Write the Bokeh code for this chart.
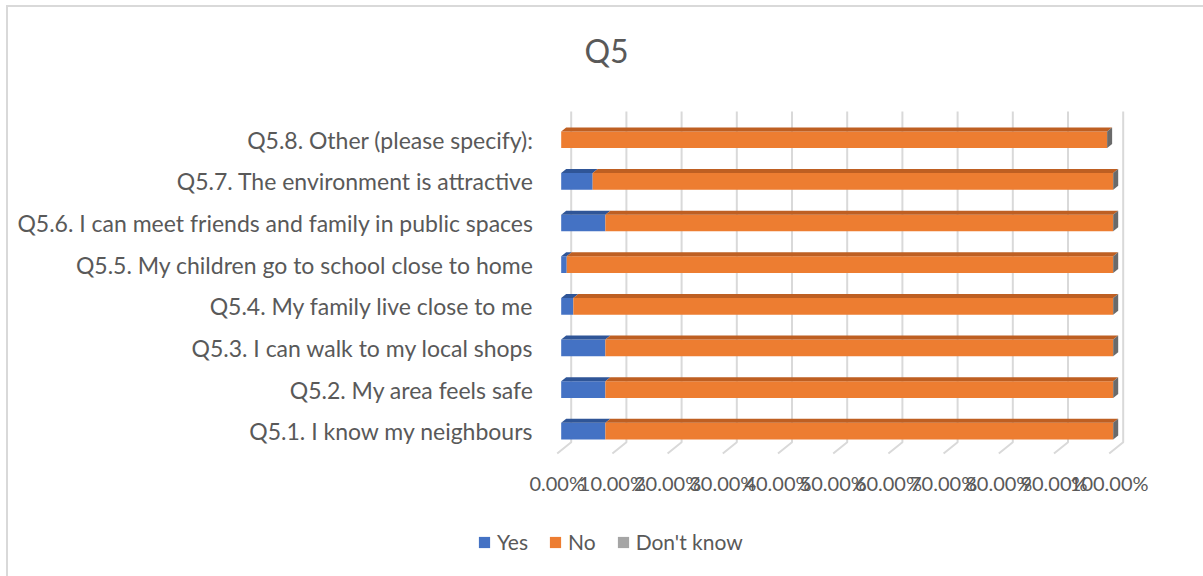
from bokeh.plotting import figure
from bokeh.models import (FixedTicker, Range1d, Legend, LegendItem, Label,
                          ColumnDataSource, LinearAxis)
from bokeh.embed import file_html
from bokeh.resources import INLINE

# ---------------- data ----------------
title_text = "Q5"
categories = [
    "Q5.1. I know my neighbours",
    "Q5.2. My area feels safe",
    "Q5.3. I can walk to my local shops",
    "Q5.4. My family live close to me",
    "Q5.5. My children go to school close to home",
    "Q5.6. I can meet friends and family in public spaces",
    "Q5.7. The environment is attractive",
    "Q5.8. Other (please specify):",
]
yes = [8.0, 8.0, 8.0, 2.2, 1.0, 8.0, 5.7, 0.0]
no = [92.0, 92.0, 92.0, 97.8, 99.0, 92.0, 94.3, 98.9]
dont_know = [0.0, 0.0, 0.0, 0.0, 0.0, 0.0, 0.0, 0.0]
x_ticks = [0, 10, 20, 30, 40, 50, 60, 70, 80, 90, 100]
x_tick_labels = ["0.00%", "10.00%", "20.00%", "30.00%", "40.00%", "50.00%",
                 "60.00%", "70.00%", "80.00%", "90.00%", "100.00%"]
series_names = ["Yes", "No", "Don't know"]

# ---------------- style ----------------
FONT = "Lato"
TXT = "#595959"
C_YES, C_NO, C_DK = "#4472C4", "#ED7D31", "#A5A5A5"
C_YES_TOP, C_NO_TOP, C_CAP = "#2F5597", "#BE5F22", "#6A6A6A"
GRID = "#D9D9D9"
BORDER_LEFT_TOP = ("linear-gradient(#D9D9D9,#D9D9D9) 6px 5px / 2px 100% no-repeat, "
                   "linear-gradient(#D9D9D9,#D9D9D9) 6px 5px / 100% 2px no-repeat, white")
BORDER_LEFT = "linear-gradient(#D9D9D9,#D9D9D9) 6px 0 / 2px 100% no-repeat, white"

PX_X = 5.52      # px per percent
PX_Y = 41.64     # px per category
FACE_H = 16.7 / PX_Y
DX = 5.0 / PX_X
DY = 4.0 / PX_Y
BACK_DX = 10.0 / PX_X
FLOOR_DX = -4.0 / PX_X
BACK_Y = -11.0 / PX_Y
FLOOR_Y = -22.3 / PX_Y
TOP_Y = 7.68
X0, X1 = -2.844, 104.04


def strip(height, bg):
    f = figure(width=1203, height=height, x_range=Range1d(0, 1), y_range=Range1d(0, 1),
               output_backend="svg", toolbar_location=None, title=None,
               x_axis_location=None, y_axis_location=None,
               min_border_left=0, min_border_right=0, min_border_top=0, min_border_bottom=0)
    f.outline_line_color = None
    f.border_fill_color = None
    f.background_fill_color = None
    f.grid.visible = False
    f.styles = {"background": bg}
    return f

# ---------------- title strip ----------------
tp = strip(100, BORDER_LEFT_TOP)
tp.add_layout(Label(x=606, y=50, x_units="screen", y_units="screen", text=title_text,
                    text_align="center", text_baseline="middle",
                    text_font=FONT, text_font_size="32px", text_color=TXT))

# ---------------- main chart ----------------
p = figure(width=1203, height=420, title=None,
           x_range=Range1d(X0, X1), y_range=Range1d(-0.704, 7.702),
           output_backend="svg", toolbar_location=None,
           x_axis_location=None,
           min_border_left=545, min_border_right=68,
           min_border_top=10, min_border_bottom=60)
p.extra_x_ranges = {"lab": Range1d(X0 - FLOOR_DX, X1 - FLOOR_DX)}
p.outline_line_color = None
p.border_fill_color = None
p.grid.visible = False
p.styles = {"background": BORDER_LEFT}

# back-wall and floor gridlines
gx, gy = [], []
for t in x_ticks:
    gx.append([t + BACK_DX, t + BACK_DX, t + FLOOR_DX])
    gy.append([TOP_Y, BACK_Y, FLOOR_Y])
p.multi_line(gx, gy, line_color=GRID, line_width=2)

y = list(range(len(categories)))
left_no = yes
right_no = [a + b for a, b in zip(yes, no)]
right_dk = [a + b for a, b in zip(right_no, dont_know)]

src = ColumnDataSource(dict(y=y, yes=yes, left_no=left_no, right_no=right_no,
                            right_dk=right_dk, zero=[0] * len(y)))

p.hbar(y="y", left="zero", right="yes", height=FACE_H, source=src,
       fill_color=C_YES, line_color=None)
p.hbar(y="y", left="left_no", right="right_no", height=FACE_H, source=src,
       fill_color=C_NO, line_color=None)
p.hbar(y="y", left="right_no", right="right_dk", height=FACE_H, source=src,
       fill_color=C_DK, line_color=None)

# top faces
def top_faces(lefts, rights):
    xs, ys = [], []
    for yi, l, r in zip(y, lefts, rights):
        if r - l <= 0:
            continue
        yt = yi + FACE_H / 2
        xs.append([l, r, r + DX, l + DX])
        ys.append([yt, yt, yt + DY, yt + DY])
    return xs, ys

xs, ys = top_faces([0] * len(y), yes)
p.patches(xs, ys, fill_color=C_YES_TOP, line_color=None)
xs, ys = top_faces(left_no, right_no)
p.patches(xs, ys, fill_color=C_NO_TOP, line_color=None)

# end caps
cx, cy = [], []
for yi, r in zip(y, right_dk):
    yt = yi + FACE_H / 2
    yb = yi - FACE_H / 2
    cx.append([r, r, r + DX, r + DX])
    cy.append([yb, yt, yt + DY, yb + DY])
p.patches(cx, cy, fill_color=C_CAP, line_color=None)

# axes
xa = LinearAxis(x_range_name="lab")
p.add_layout(xa, "below")
xa.ticker = FixedTicker(ticks=x_ticks)
xa.major_label_overrides = {t: l for t, l in zip(x_ticks, x_tick_labels)}
ya = p.yaxis[0]
ya.ticker = FixedTicker(ticks=y)
ya.major_label_overrides = {i: c for i, c in zip(y, categories)}
for ax in (xa, ya):
    ax.axis_line_color = None
    ax.major_tick_line_color = None
    ax.minor_tick_line_color = None
    ax.major_tick_in = 0
    ax.major_tick_out = 0
    ax.major_label_text_font = FONT
    ax.major_label_text_color = TXT
xa.major_label_text_font_size = "20px"
ya.major_label_text_font_size = "23px"
xa.major_label_standoff = 10
ya.major_label_standoff = 12

# ---------------- legend strip ----------------
lg = strip(56, BORDER_LEFT)
offscreen = ColumnDataSource(dict(y=[5.0], left=[5.0], right=[6.0]))
items = []
for name, col in zip(series_names, [C_YES, C_NO, C_DK]):
    r = lg.hbar(y="y", left="left", right="right", height=0.5, source=offscreen,
                fill_color=col, line_color=None)
    items.append(LegendItem(label=name, renderers=[r]))
legend = Legend(items=items, orientation="horizontal", location=(477, 22),
                glyph_width=14, glyph_height=14, label_standoff=6, spacing=20,
                padding=0, margin=0, border_line_color=None,
                background_fill_alpha=0, label_text_font=FONT,
                label_text_font_size="21px", label_text_color=TXT, label_height=20)
lg.add_layout(legend)

open("out.html", "w").write(file_html([tp, p, lg], INLINE))
